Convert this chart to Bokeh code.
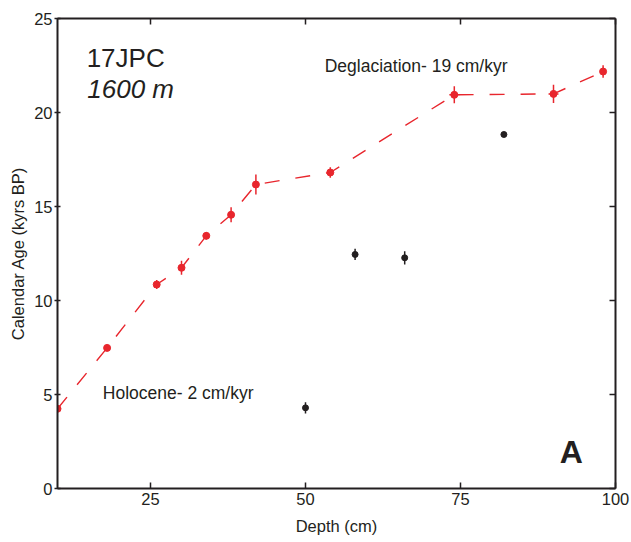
from bokeh.plotting import figure
from bokeh.models import LinearAxis, FixedTicker, Range1d
from bokeh.core.properties import value
from bokeh.embed import file_html
from bokeh.resources import INLINE

# red: dated samples used for age model
red_depth = [10, 18, 26, 30, 34, 38, 42, 54, 74, 90, 98]
red_age = [4.24, 7.48, 10.85, 11.74, 13.44, 14.56, 16.17, 16.81, 20.94, 20.99, 22.18]
red_err = [0.10, 0.15, 0.24, 0.37, 0.19, 0.40, 0.53, 0.28, 0.45, 0.48, 0.33]
red_xerr = [0, 0, 0, 0, 0, 0, 0, 0, 0.8, 0.8, 0.4]

# black: rejected samples
blk_depth = [50, 58, 66, 82]
blk_age = [4.29, 12.45, 12.27, 18.83]
blk_err = [0.30, 0.30, 0.35, 0.08]

x_ticks = [25, 50, 75, 100]
y_ticks = [0, 5, 10, 15, 20, 25]

RED = "#e8262d"
BLK = "#231f20"
FONT = "Liberation Sans"

p = figure(width=630, height=540, output_backend="svg", toolbar_location=None,
           x_range=Range1d(10, 100), y_range=Range1d(0, 25),
           min_border_left=57, min_border_right=15, min_border_top=18, min_border_bottom=52)
p.grid.visible = False
p.outline_line_color = None

def style(ax, tin=6, tout=0):
    ax.axis_line_width = 2
    ax.axis_line_color = BLK
    ax.major_tick_line_color = BLK
    ax.major_tick_line_width = 1.5
    ax.major_tick_in = tin
    ax.major_tick_out = tout
    ax.minor_tick_line_color = None
    ax.major_label_text_font = FONT
    ax.major_label_text_color = BLK
    ax.major_label_text_font_size = "16.5px"
    ax.axis_label_text_font = FONT
    ax.axis_label_text_font_style = "normal"
    ax.axis_label_text_color = BLK
    ax.axis_label_text_font_size = "16.5px"

def frame_axis(ticks):
    # unlabeled frame side: ticks drawn as minor ticks so no labels appear
    ax = LinearAxis(ticker=FixedTicker(ticks=[], minor_ticks=ticks))
    ax.axis_line_width = 2
    ax.axis_line_color = BLK
    ax.major_tick_line_color = None
    ax.minor_tick_line_color = BLK
    ax.minor_tick_line_width = 1.5
    ax.minor_tick_in = 6
    ax.minor_tick_out = 0
    return ax

xa = p.xaxis[0]
xa.ticker = FixedTicker(ticks=x_ticks)
style(xa, tin=6, tout=0)
xa.major_label_standoff = 4
xa.axis_label = "Depth (cm)"
xa.axis_label_standoff = 9

ya = p.yaxis[0]
ya.ticker = FixedTicker(ticks=y_ticks)
style(ya, tin=3, tout=3)
ya.major_label_standoff = 2
ya.axis_label = "Calendar Age (kyrs BP)"
ya.axis_label_standoff = 4

p.add_layout(frame_axis(x_ticks), "above")
p.add_layout(frame_axis(y_ticks), "right")

# red dashed age model line
p.line(red_depth, red_age, line_color=RED, line_width=1.4, line_dash="15 16")

# error bars
p.segment(x0=red_depth, y0=[a - e for a, e in zip(red_age, red_err)],
          x1=red_depth, y1=[a + e for a, e in zip(red_age, red_err)],
          line_color=RED, line_width=1.5)
p.segment(x0=[d - e for d, e in zip(red_depth, red_xerr)], y0=red_age,
          x1=[d + e for d, e in zip(red_depth, red_xerr)], y1=red_age,
          line_color=RED, line_width=1.5)
p.segment(x0=blk_depth, y0=[a - e for a, e in zip(blk_age, blk_err)],
          x1=blk_depth, y1=[a + e for a, e in zip(blk_age, blk_err)],
          line_color=BLK, line_width=1.5)

p.scatter(red_depth, red_age, size=7, color=RED)
p.scatter(blk_depth, blk_age, size=6, color=BLK)

# annotations
p.text(x=[14.7], y=[22.9], text=["17JPC"], text_font=value(FONT), text_font_size="26px",
       text_color=BLK, text_baseline="alphabetic")
p.text(x=[14.8], y=[21.25], text=["1600 m"], text_font=value(FONT), text_font_size="26px",
       text_font_style="italic", text_color=BLK, text_baseline="alphabetic")
p.text(x=[53.1], y=[22.47], text=["Deglaciation- 19 cm/kyr"], text_font=value(FONT),
       text_font_size="17.5px", text_color=BLK, text_baseline="alphabetic")
p.text(x=[17.3], y=[5.06], text=["Holocene- 2 cm/kyr"], text_font=value(FONT),
       text_font_size="17.5px", text_color=BLK, text_baseline="alphabetic")
p.text(x=[91.0], y=[1.93], text=["A"], text_font=value(FONT), text_font_size="32px",
       text_font_style="bold", text_color=BLK, text_baseline="alphabetic")

open("out.html", "w").write(file_html(p, INLINE))
